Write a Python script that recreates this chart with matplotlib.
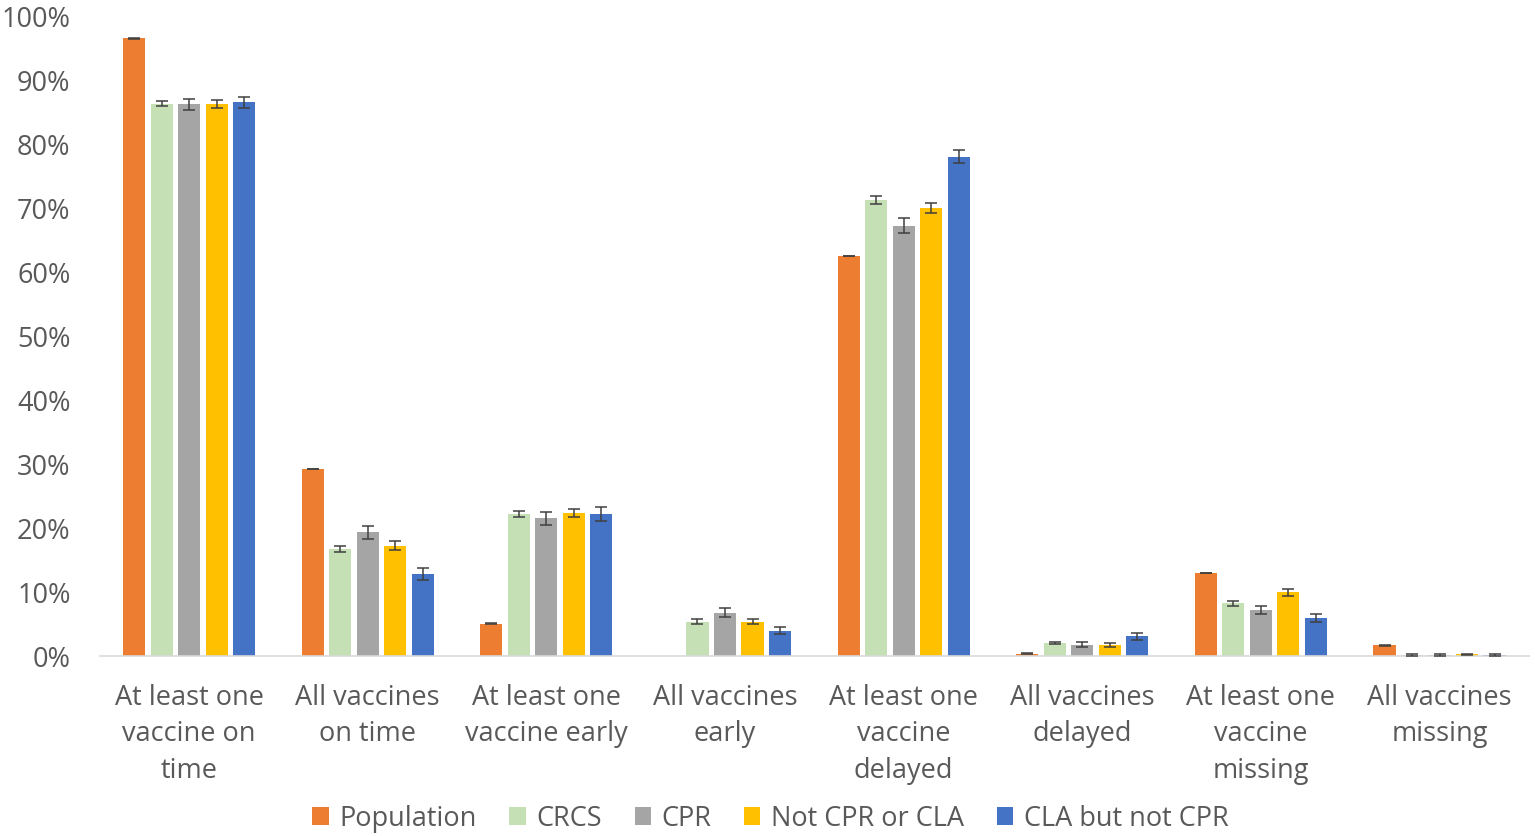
import numpy as np
import matplotlib
matplotlib.use("Agg")
import matplotlib.pyplot as plt
from matplotlib.ticker import FuncFormatter

categories = ["At least one\nvaccine on\ntime", "All vaccines\non time",
              "At least one\nvaccine early", "All vaccines\nearly",
              "At least one\nvaccine\ndelayed", "All vaccines\ndelayed",
              "At least one\nvaccine\nmissing", "All vaccines\nmissing"]
series = ["Population", "CRCS", "CPR", "Not CPR or CLA", "CLA but not CPR"]
colors = ["#ED7D31", "#C5E0B4", "#A5A5A5", "#FFC000", "#4472C4"]

population = [96.6, 29.3, 5.1, np.nan, 62.6, 0.4, 13.0, 1.7]
crcs = [86.4, 16.8, 22.2, 5.4, 71.3, 2.1, 8.3, 0.2]
cpr = [86.3, 19.4, 21.6, 6.8, 67.3, 1.8, 7.2, 0.2]
not_cpr_cla = [86.4, 17.3, 22.4, 5.4, 70.1, 1.8, 10.0, 0.3]
cla_not_cpr = [86.6, 12.9, 22.2, 4.0, 78.1, 3.1, 6.0, 0.2]

population_err = [0.05, 0.05, 0.05, np.nan, 0.05, 0.05, 0.05, 0.05]
crcs_err = [0.4, 0.5, 0.5, 0.35, 0.6, 0.2, 0.4, 0.1]
cpr_err = [0.9, 1.0, 1.0, 0.7, 1.15, 0.4, 0.6, 0.1]
not_cpr_cla_err = [0.6, 0.7, 0.7, 0.4, 0.8, 0.3, 0.5, 0.1]
cla_not_cpr_err = [0.9, 0.9, 1.1, 0.55, 1.0, 0.5, 0.6, 0.1]

values = [population, crcs, cpr, not_cpr_cla, cla_not_cpr]
errors = [population_err, crcs_err, cpr_err, not_cpr_cla_err, cla_not_cpr_err]

plt.rcParams['font.family'] = ['Open Sans', 'DejaVu Sans']
text_color = "#595959"
fs = 19.5

fig = plt.figure(figsize=(15.35, 8.36), dpi=100)
ax = fig.add_axes([0.065, 0.215, 0.931, 0.765])

x = np.arange(len(categories))
width = 0.124
step = 0.154
for i, (name, vals, errs, c) in enumerate(zip(series, values, errors, colors)):
    pos = x + (i - 2) * step
    ax.bar(pos, vals, width, color=c, label=name, zorder=2)
    ax.errorbar(pos, vals, yerr=errs, fmt="none", ecolor="#404040",
                elinewidth=1.1, capsize=4, capthick=1.1, zorder=3)

ax.set_xlim(-0.5, len(categories) - 0.5)
ax.set_ylim(0, 100)
ax.set_yticks(np.arange(0, 101, 10))
ax.yaxis.set_major_formatter(FuncFormatter(lambda v, p: f"{v:.0f}%"))
ax.set_xticks(x)
ax.set_xticklabels(categories, linespacing=1.40)
ax.tick_params(axis="both", length=0, labelsize=fs, colors=text_color)
ax.tick_params(axis="x", pad=20)
ax.tick_params(axis="y", pad=21)
for s in ["top", "right", "left"]:
    ax.spines[s].set_visible(False)
ax.spines["bottom"].set_color("#D9D9D9")
ax.spines["bottom"].set_linewidth(1.2)

leg = fig.legend(loc="lower center", bbox_to_anchor=(0.502, -0.025), ncol=5,
                 frameon=False, fontsize=fs, handlelength=0.6, handleheight=0.6,
                 handletextpad=0.4, columnspacing=1.2)
for t in leg.get_texts():
    t.set_color(text_color)

fig.savefig("out.png", dpi=100)
